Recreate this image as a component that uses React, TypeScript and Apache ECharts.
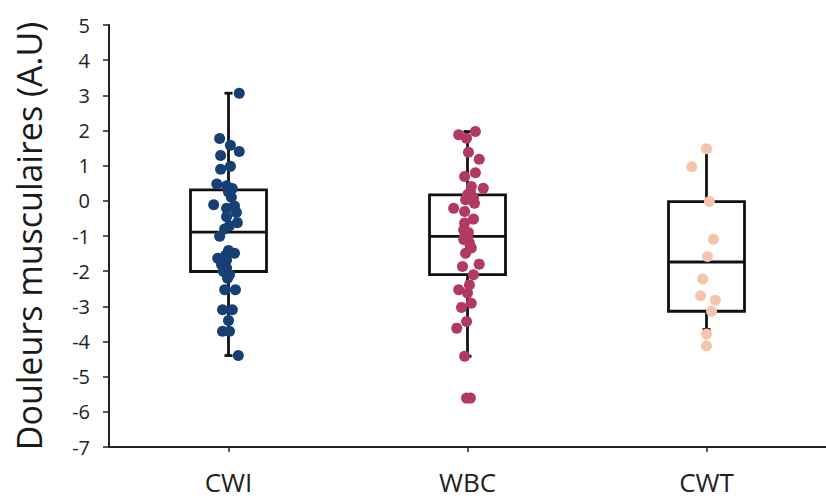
import React, { useEffect, useRef } from "react";
import * as echarts from "echarts";

const categories = ["CWI", "WBC", "CWT"];
const yTicks = { min: -7, max: 5, step: 1 };

// box statistics per category
const boxMin = [-4.4, -4.42, -3.66];
const boxQ1 = [-2.01, -2.1, -3.14];
const boxMedian = [-0.89, -1.01, -1.74];
const boxQ3 = [0.31, 0.17, -0.02];
const boxMax = [3.06, 1.97, 1.48];

// individual observations (value) and horizontal jitter (in category units)
const cwiValues = [3.06, 1.77, 1.58, 1.4, 1.29, 0.98, 0.9, 0.48, 0.43, 0.35, 0.25, 0.1, -0.11, -0.15, -0.21, -0.33, -0.45, -0.62, -0.71, -0.8, -1.01, -1.41, -1.49, -1.55, -1.63, -1.68, -1.82, -1.91, -2.01, -2.1, -2.2, -2.53, -2.53, -3.1, -3.1, -3.4, -3.71, -3.71, -4.4];
const cwiJitter = [0.045, -0.037, 0.008, 0.045, -0.033, 0.008, -0.033, -0.049, -0.008, 0.016, 0, 0.012, -0.062, 0.025, -0.008, 0.033, -0.008, 0.037, 0.004, -0.016, -0.037, 0, 0.025, -0.012, -0.045, -0.008, -0.029, -0.008, -0.021, 0.004, -0.004, -0.016, 0.029, -0.025, 0.016, 0, -0.025, 0.004, 0.041];

const wbcValues = [1.97, 1.88, 1.78, 1.38, 1.18, 0.8, 0.69, 0.41, 0.36, 0.25, 0.17, 0.08, 0.03, -0.07, -0.21, -0.3, -0.52, -0.63, -0.82, -0.9, -1.01, -1.06, -1.1, -1.2, -1.3, -1.34, -1.49, -1.8, -1.87, -2.1, -2.39, -2.53, -2.62, -2.91, -3.03, -3.43, -3.62, -4.42, -5.61, -5.61];
const wbcJitter = [0.033, -0.037, -0.004, 0.004, 0.049, 0.033, -0.012, 0.016, 0.066, 0.012, 0, 0.025, -0.008, 0.029, -0.058, -0.012, 0.025, -0.012, -0.016, 0.004, -0.012, 0, -0.016, 0.008, 0.012, 0.016, -0.008, 0.049, -0.021, 0.025, 0.008, -0.037, 0, 0.016, -0.025, -0.004, -0.045, -0.012, -0.004, 0.012];

const cwtValues = [1.48, 0.97, -0.02, -1.09, -1.58, -2.22, -2.7, -2.83, -3.14, -3.79, -4.12];
const cwtJitter = [0, -0.062, 0.012, 0.029, 0.004, -0.016, -0.025, 0.037, 0.021, 0, 0];

const groupColors = ["#163f74", "#b23a61", "#f4c4ac"];
const yAxisTitle = "Douleurs musculaires (A.U)";

const BOX_HALF = 0.159;
const CAP_HALF_PX = 4;
const FONT = "'Open Sans', 'Noto Sans', sans-serif";

export default function App() {
  const ref = useRef<HTMLDivElement>(null);

  useEffect(() => {
    if (!ref.current) return;
    const chart = echarts.init(ref.current, undefined, { renderer: "svg" });

    const boxData = categories.map((_, i) => [i, boxMin[i], boxQ1[i], boxMedian[i], boxQ3[i], boxMax[i]]);
    const groups = [
      { values: cwiValues, jitter: cwiJitter },
      { values: wbcValues, jitter: wbcJitter },
      { values: cwtValues, jitter: cwtJitter },
    ];

    const lineStyle = { stroke: "#111", lineWidth: 2.8, fill: "none" };

    const scatterSeries = groups.map((g, gi) => ({
      type: "scatter",
      xAxisIndex: 1,
      yAxisIndex: 0,
      symbolSize: 11,
      z: 5,
      itemStyle: { color: groupColors[gi], opacity: 1 },
      data: g.values.map((v, k) => [gi + g.jitter[k], v]),
    }));

    chart.setOption({
      animation: false,
      grid: { left: 109, top: 25, bottom: 54, right: -10.5, containLabel: false },
      xAxis: [
        {
          type: "category",
          data: categories,
          boundaryGap: true,
          axisLine: { show: true, onZero: false, lineStyle: { color: "#222", width: 2 } },
          axisTick: { show: true, alignWithLabel: true, length: 5, lineStyle: { color: "#222", width: 1.5 } },
          axisLabel: { fontSize: 26, lineHeight: 26, color: "#222", margin: 22, fontFamily: FONT },
          splitLine: { show: false },
        },
        {
          type: "value",
          min: -0.5,
          max: 2.5,
          show: false,
          axisLine: { onZero: false },
        },
      ],
      yAxis: {
        type: "value",
        min: yTicks.min,
        max: yTicks.max,
        interval: yTicks.step,
        name: yAxisTitle,
        nameLocation: "middle",
        nameRotate: 90,
        nameGap: 63,
        nameTextStyle: { fontSize: 34, color: "#1a1a1a", fontFamily: FONT },
        axisLine: { show: true, onZero: false, lineStyle: { color: "#222", width: 2 } },
        axisTick: { show: true, length: 6, lineStyle: { color: "#222", width: 1.5 } },
        axisLabel: { fontSize: 20, color: "#222", margin: 19, fontFamily: FONT },
        splitLine: { show: false },
      },
      series: [
        {
          type: "custom",
          xAxisIndex: 1,
          yAxisIndex: 0,
          z: 3,
          clip: false,
          encode: { x: 0, y: [1, 2, 3, 4, 5] },
          data: boxData,
          renderItem: (params: any, api: any) => {
            const i = api.value(0);
            const pMin = api.coord([i, api.value(1)]);
            const pQ1 = api.coord([i, api.value(2)]);
            const pMed = api.coord([i, api.value(3)]);
            const pQ3 = api.coord([i, api.value(4)]);
            const pMax = api.coord([i, api.value(5)]);
            const cx = pMed[0];
            const half = api.coord([i + BOX_HALF, 0])[0] - cx;
            return {
              type: "group",
              children: [
                { type: "line", shape: { x1: cx, y1: pQ3[1], x2: cx, y2: pMax[1] }, style: lineStyle },
                { type: "line", shape: { x1: cx, y1: pQ1[1], x2: cx, y2: pMin[1] }, style: lineStyle },
                { type: "line", shape: { x1: cx - CAP_HALF_PX, y1: pMax[1], x2: cx + CAP_HALF_PX, y2: pMax[1] }, style: lineStyle },
                { type: "line", shape: { x1: cx - CAP_HALF_PX, y1: pMin[1], x2: cx + CAP_HALF_PX, y2: pMin[1] }, style: lineStyle },
                {
                  type: "rect",
                  shape: { x: cx - half, y: pQ3[1], width: 2 * half, height: pQ1[1] - pQ3[1] },
                  style: lineStyle,
                },
                { type: "line", shape: { x1: cx - half, y1: pMed[1], x2: cx + half, y2: pMed[1] }, style: lineStyle },
              ],
            };
          },
        },
        ...scatterSeries,
      ],
    });

    return () => chart.dispose();
  }, []);

  return (
    <div
      ref={ref}
      style={{ position: "fixed", left: 0, top: 0, width: 826, height: 501, background: "#fff" }}
    />
  );
}
